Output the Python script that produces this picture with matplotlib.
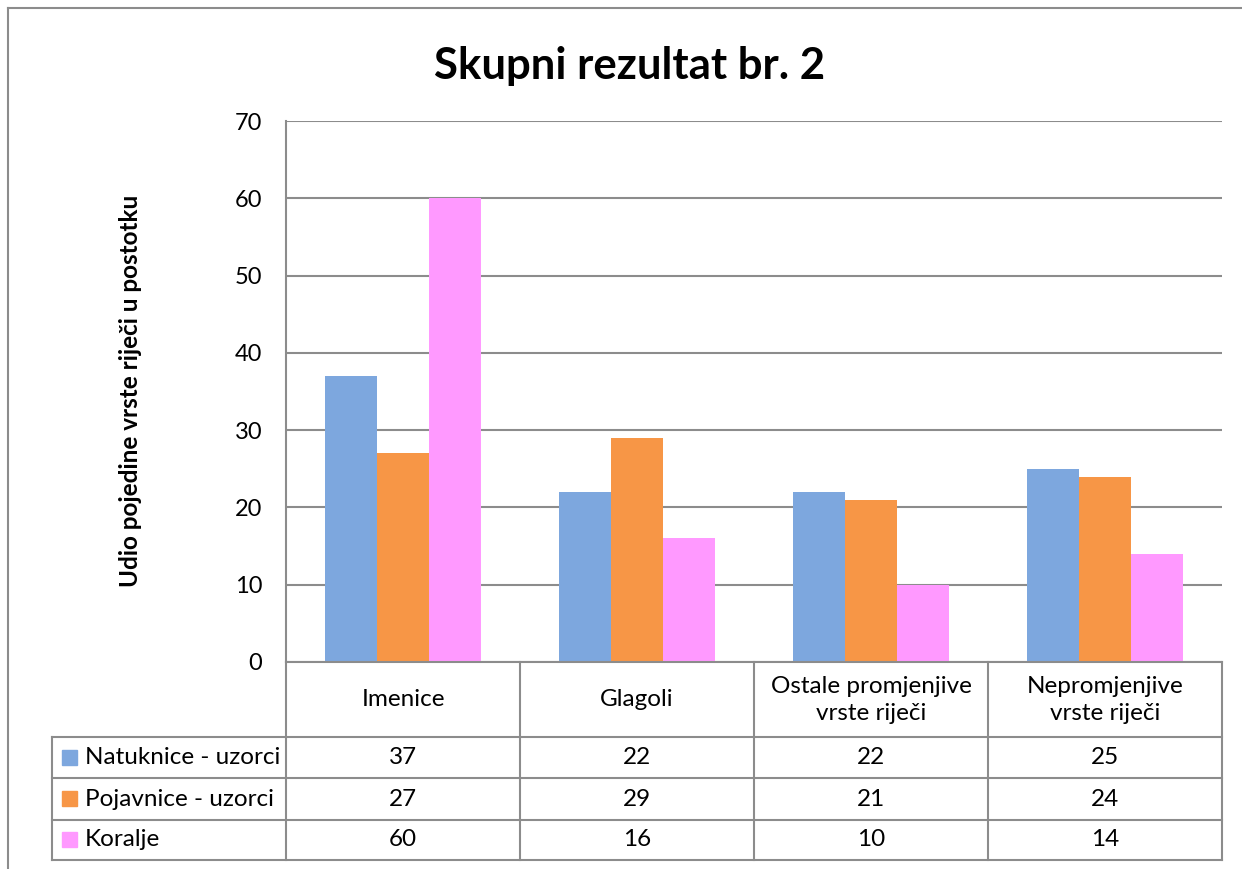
import matplotlib
matplotlib.use("Agg")
import matplotlib.pyplot as plt
from matplotlib.lines import Line2D
from matplotlib.patches import Rectangle
import numpy as np

plt.rcParams['font.family'] = ['Lato', 'DejaVu Sans']

title = "Skupni rezultat br. 2"
ylabel = "Udio pojedine vrste riječi u postotku"
categories = ["Imenice", "Glagoli", "Ostale promjenjive\nvrste riječi",
              "Nepromjenjive\nvrste riječi"]
series_names = ["Natuknice - uzorci", "Pojavnice - uzorci", "Koralje"]
natuknice = [37, 22, 22, 25]
pojavnice = [27, 29, 21, 24]
koralje = [60, 16, 10, 14]
colors = ["#7DA7DE", "#F79646", "#FF99FF"]
yticks = [0, 10, 20, 30, 40, 50, 60, 70]

W, H = 1242, 869
grid_c = "#8C8C8C"
fs = 17.5

def fx(x):
    return x / W

def fy(y):
    return 1 - y / H

fig = plt.figure(figsize=(W / 100, H / 100), dpi=100)

# plot area in pixel coords
left, right, top, bottom = 286, 1222, 121, 662
ax = fig.add_axes([fx(left), fy(bottom), fx(right) - fx(left), fy(top) - fy(bottom)])

series = [natuknice, pojavnice, koralje]
x = np.arange(len(categories))
w = 52 / 234
for i, vals in enumerate(series):
    ax.bar(x + (i - 1) * w, vals, width=w, color=colors[i], zorder=3)

ax.set_xlim(-0.5, len(categories) - 0.5)
ax.set_ylim(0, 70)
ax.set_yticks(yticks)
ax.yaxis.grid(True, color=grid_c, linewidth=1.5, zorder=0)
ax.set_xticks([])
ax.tick_params(axis='y', length=0, pad=17, labelsize=17)
for s in ['top', 'right', 'bottom']:
    ax.spines[s].set_visible(False)
ax.spines['left'].set_color(grid_c)
ax.spines['left'].set_linewidth(1.5)

fig.text(fx(130), fy(391), ylabel, rotation=90, ha='center', va='center',
         fontsize=17.5, fontweight='bold')
fig.text(fx(630), fy(66), title, ha='center', va='center',
         fontsize=31.5, fontweight='bold')

# data table
lw = 1.5
col_edges = [286, 520, 754, 988, 1222]
row_edges = [737, 778, 820, 860]
lines = []
for cx in col_edges:
    lines.append(([cx, cx], [662, 860]))
lines.append(([52, 52], [737, 860]))
lines.append(([286, 1222], [662, 662]))
for ry in row_edges:
    lines.append(([52, 1222], [ry, ry]))
# outer chart frame (cropped at right/bottom)
lines.append(([8, 8], [8, 869]))
lines.append(([8, 1242], [8, 8]))
for xs, ys in lines:
    fig.add_artist(Line2D([fx(v) for v in xs], [fy(v) for v in ys],
                          color=grid_c, linewidth=lw))

for j, cat in enumerate(categories):
    cxm = (col_edges[j] + col_edges[j + 1]) / 2
    fig.text(fx(cxm), fy(700), cat, ha='center', va='center', fontsize=fs,
             linespacing=1.35)

for i, name in enumerate(series_names):
    rm = (row_edges[i] + row_edges[i + 1]) / 2
    fig.add_artist(Rectangle((fx(62), fy(rm + 7)), fx(15), 15 / H,
                             color=colors[i]))
    fig.text(fx(85), fy(rm), name, ha='left', va='center', fontsize=fs)
    for j, v in enumerate(series[i]):
        cxm = (col_edges[j] + col_edges[j + 1]) / 2
        fig.text(fx(cxm), fy(rm), str(v), ha='center', va='center', fontsize=fs)

fig.savefig("out.png", dpi=100)
